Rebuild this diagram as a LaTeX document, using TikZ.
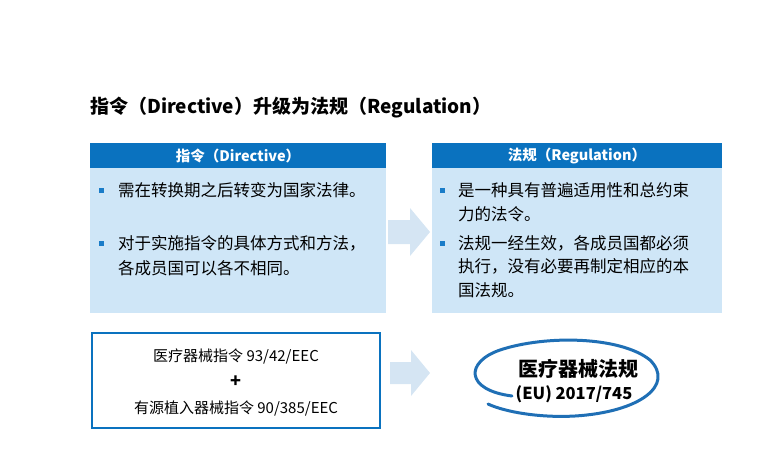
\documentclass[tikz,border=0pt]{standalone}
\usepackage{fontspec}
\setmainfont{Noto Sans CJK SC}
\definecolor{hdr}{HTML}{0A72BF}
\definecolor{bodyc}{HTML}{CFE6F7}
\definecolor{arr}{HTML}{D5E5F3}
\definecolor{bul}{HTML}{1A7CC8}
\definecolor{ring}{HTML}{1F6FB5}
\tikzset{
 hbox/.style={fill=hdr,text=white,font=\fontsize{14.5}{16}\selectfont\bfseries},
 txt/.style={anchor=west,inner sep=0,font=\fontsize{16.5}{18}\selectfont},
 fatarrow/.style={fill=arr},
}
\begin{document}
\begin{tikzpicture}[x=1pt,y=-1pt]
\useasboundingbox (0,0) rectangle (757,472);
\node[anchor=west,inner sep=0,font=\fontsize{19}{21}\selectfont\bfseries] (title) at (90,108) {指令（Directive）升级为法规（Regulation）};
\fill[hdr] (90,143) rectangle (386,168);
\node[hbox] (lh) at (238,155.5) {指令（Directive）};
\fill[bodyc] (90,168) rectangle (386,313);
\fill[hdr] (432,143) rectangle (722,168);
\node[hbox] (rh) at (577,155.5) {法规（Regulation）};
\fill[bodyc] (432,168) rectangle (722,313);
\foreach \y in {190,243} \fill[bul] (99,\y-2.5) rectangle +(5,5);
\node[txt] (l1) at (118,190) {需在转换期之后转变为国家法律。};
\node[txt] (l2) at (118,243) {对于实施指令的具体方式和方法，};
\node[txt] (l3) at (118,268) {各成员国可以各不相同。};
\foreach \y in {190,243} \fill[bul] (440,\y-2.5) rectangle +(5,5);
\node[txt] (r1) at (458,190) {是一种具有普遍适用性和总约束};
\node[txt] (r2) at (458,214) {力的法令。};
\node[txt] (r3) at (458,243) {法规一经生效，各成员国都必须};
\node[txt] (r4) at (458,266) {执行，没有必要再制定相应的本};
\node[txt] (r5) at (458,290) {国法规。};
\fill[fatarrow] (388,220) -- (410,220) -- (410,208) -- (430,232) -- (410,256) -- (410,244) -- (388,244) -- cycle;
\fill[fatarrow] (390,362) -- (411,362) -- (411,350) -- (430,373) -- (411,396) -- (411,384) -- (390,384) -- cycle;
\draw[hdr,line width=1.8pt] (92,333) rectangle (380,428);
\node[font=\fontsize{15}{17}\selectfont] (b1) at (236,357) {医疗器械指令 93/42/EEC};
\node[font=\fontsize{18}{18}\selectfont\bfseries] (b2) at (236,382) {+};
\node[font=\fontsize{15}{17}\selectfont] (b3) at (236,408) {有源植入器械指令 90/385/EEC};
\draw[ring,line width=3pt,line cap=round] (512,396) .. controls (465,390) and (465,362) .. (500,350)
 .. controls (545,335) and (620,336) .. (650,360)
 .. controls (675,385) and (640,412) .. (575,416)
 .. controls (540,418) and (505,412) .. (488,404);
\node[font=\fontsize{20}{22}\selectfont\bfseries] (e1) at (578,369) {医疗器械法规};
\node[font=\fontsize{16.5}{18}\selectfont\bfseries] (e2) at (574,394) {(EU) 2017/745};
\end{tikzpicture}
\end{document}
